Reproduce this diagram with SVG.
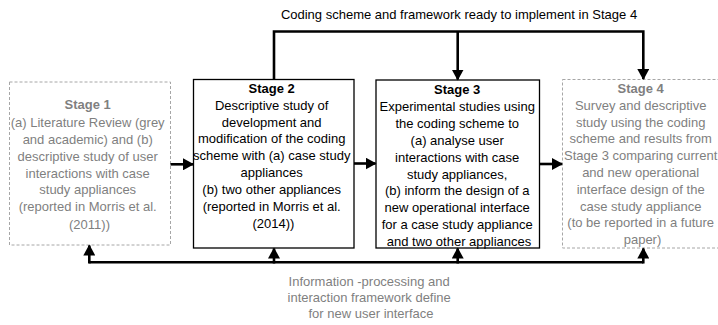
<svg xmlns="http://www.w3.org/2000/svg" width="718" height="325" viewBox="0 0 718 325">
  <style>
    text { font-family: "Liberation Sans", Arial, sans-serif; font-size: 13px; text-anchor: middle; }
    .grey { fill: #7f7f7f; }
    .dark { fill: #000000; }
    .title { font-weight: bold; }
    .box-solid { fill: #ffffff; stroke: #000000; stroke-width: 1.3; }
    .box-dash { fill: #ffffff; stroke: #a6a6a6; stroke-width: 1; stroke-dasharray: 3 2; }
    .conn { fill: none; stroke: #000000; stroke-width: 2.6; }
  </style>
  <defs>
    <marker id="head" markerUnits="userSpaceOnUse" markerWidth="12" markerHeight="12" refX="10" refY="6" orient="auto">
      <path d="M0,0 L11,6 L0,12 Z" fill="#000000"/>
    </marker>
  </defs>

  <!-- flow labels -->
  <text x="459" y="19" class="dark">Coding scheme and framework ready to implement in Stage 4</text>
  <text class="grey">
    <tspan x="371" y="286">Information -processing and</tspan>
    <tspan x="371" y="302">interaction framework define</tspan>
    <tspan x="371" y="318">for new user interface</tspan>
  </text>

  <!-- Stage 1 -->
  <g id="stage1">
    <rect class="box-dash" x="9.5" y="82" width="161" height="163"/>
    <text class="grey">
      <tspan x="89.5" y="109" class="title">Stage 1</tspan>
      <tspan x="89.5" y="126.5">(a) Literature Review (grey</tspan>
      <tspan x="89.5" y="143.5">and academic) and (b)</tspan>
      <tspan x="89.5" y="160.5">descriptive study of user</tspan>
      <tspan x="89.5" y="177.5">interactions with case</tspan>
      <tspan x="89.5" y="194">study appliances</tspan>
      <tspan x="89.5" y="211">(reported in Morris et al.</tspan>
      <tspan x="89.5" y="228.5">(2011))</tspan>
    </text>
  </g>

  <!-- Stage 2 -->
  <g id="stage2">
    <rect class="box-solid" x="193.5" y="79.5" width="160.5" height="168.5"/>
    <text class="dark">
      <tspan x="273.5" y="93" class="title">Stage 2</tspan>
      <tspan x="273.5" y="109.8">Descriptive study of</tspan>
      <tspan x="273.5" y="126.6">development and</tspan>
      <tspan x="273.5" y="143.4">modification of the coding</tspan>
      <tspan x="273.5" y="160.2">scheme with (a) case study</tspan>
      <tspan x="273.5" y="177">appliances</tspan>
      <tspan x="273.5" y="193.8">(b) two other appliances</tspan>
      <tspan x="273.5" y="210.8">(reported in Morris et al.</tspan>
      <tspan x="273.5" y="228">(2014))</tspan>
    </text>
  </g>

  <!-- Stage 3 -->
  <g id="stage3">
    <rect class="box-solid" x="376" y="80" width="163.5" height="168"/>
    <text class="dark">
      <tspan x="459" y="94" class="title">Stage 3</tspan>
      <tspan x="459" y="110.9">Experimental studies using</tspan>
      <tspan x="459" y="127.8">the coding scheme to</tspan>
      <tspan x="459" y="144.7">(a) analyse user</tspan>
      <tspan x="459" y="161.6">interactions with case</tspan>
      <tspan x="459" y="178.5">study appliances,</tspan>
      <tspan x="459" y="195.4">(b) inform the design of a</tspan>
      <tspan x="459" y="212.3">new operational interface</tspan>
      <tspan x="459" y="229.2">for a case study appliance</tspan>
      <tspan x="459" y="246">and two other appliances</tspan>
    </text>
  </g>

  <!-- Stage 4 (runs past the right edge) -->
  <g id="stage4">
    <rect class="box-dash" x="562.5" y="79.5" width="162" height="168.5"/>
    <text class="grey">
      <tspan x="642.5" y="93" class="title">Stage 4</tspan>
      <tspan x="642.5" y="109.8">Survey and descriptive</tspan>
      <tspan x="642.5" y="126.6">study using the coding</tspan>
      <tspan x="642.5" y="143.4">scheme and results from</tspan>
      <tspan x="642.5" y="160.2">Stage 3 comparing current</tspan>
      <tspan x="642.5" y="177">and new operational</tspan>
      <tspan x="642.5" y="193.8">interface design of the</tspan>
      <tspan x="642.5" y="210.6">case study appliance</tspan>
      <tspan x="642.5" y="227.4">(to be reported in a future</tspan>
      <tspan x="642.5" y="244.2">paper)</tspan>
    </text>
  </g>

  <!-- connectors -->
  <g id="connectors">
    <!-- stage to stage -->
    <path class="conn" d="M170.5,164.3 H193" marker-end="url(#head)"/>
    <path class="conn" d="M354,163.5 H375.5" marker-end="url(#head)"/>
    <path class="conn" d="M539.5,164 H562" marker-end="url(#head)"/>
    <!-- top feed from Stage 2 into Stages 3 and 4 -->
    <path class="conn" d="M274,79.5 V31.5 H643.3 V79" marker-end="url(#head)"/>
    <path class="conn" d="M457.7,31.5 V79.5" marker-end="url(#head)"/>
    <!-- bottom feedback bus -->
    <path class="conn" d="M89.3,262.3 H643.3"/>
    <path class="conn" d="M89.3,263.5 V245.5" marker-end="url(#head)"/>
    <path class="conn" d="M274,263.5 V248.5" marker-end="url(#head)"/>
    <path class="conn" d="M457.7,263.5 V248.5" marker-end="url(#head)"/>
    <path class="conn" d="M643.3,263.5 V248.5" marker-end="url(#head)"/>
  </g>
</svg>
